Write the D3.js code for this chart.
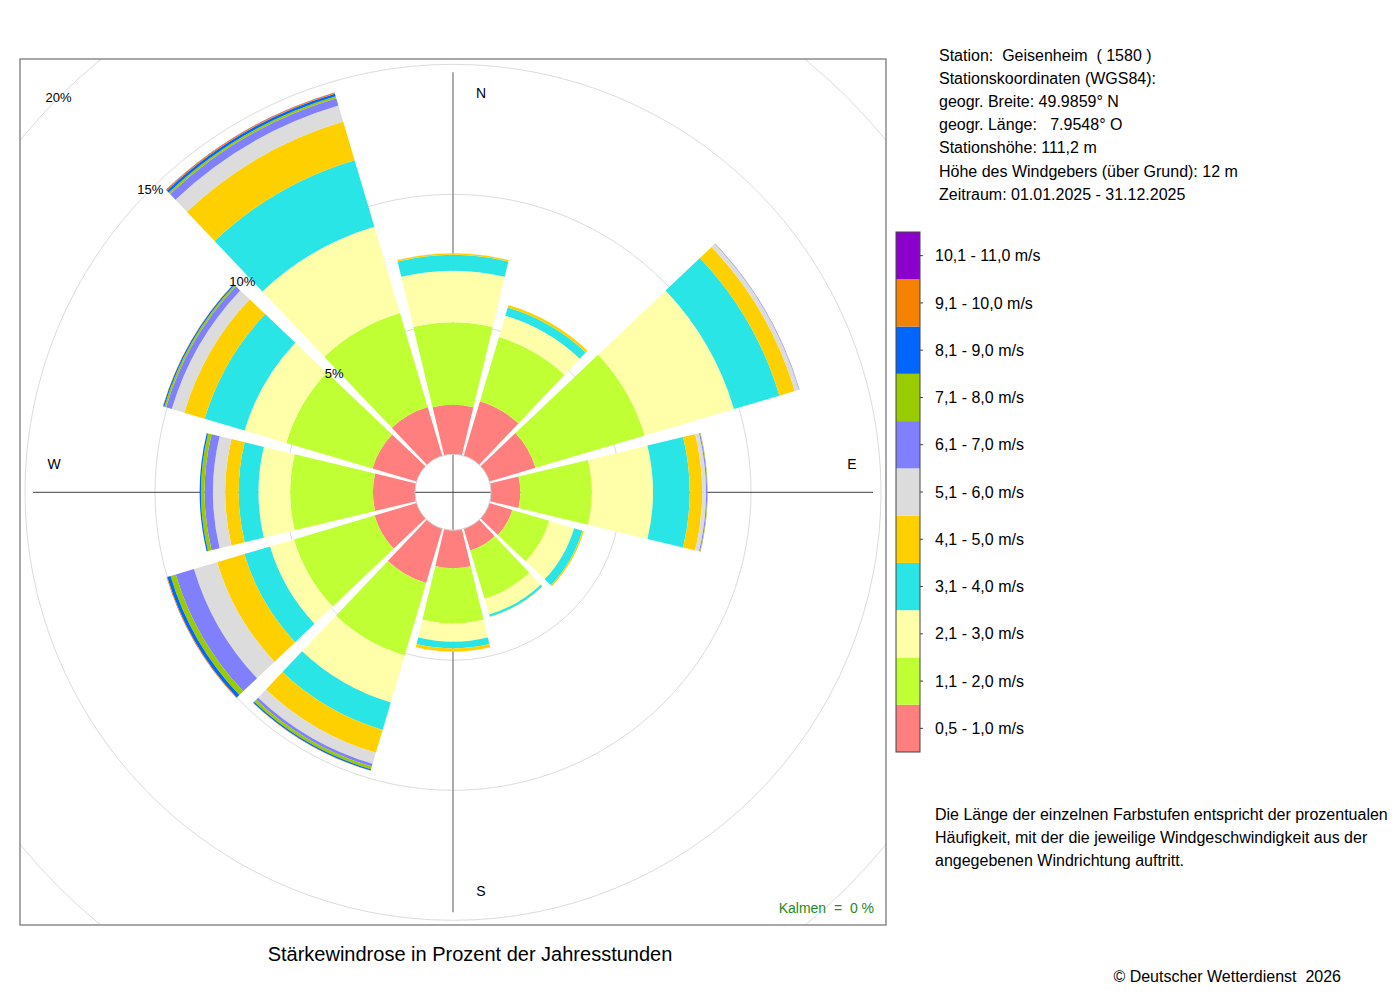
<!DOCTYPE html>
<html>
<head>
<meta charset="utf-8">
<script src="https://d3js.org/d3.v7.min.js"></script>
<style>
  body { margin: 0; background: #fff; }
  svg text { font-family: "Liberation Sans", Arial, Helvetica, sans-serif; fill: #000; white-space: pre; }
</style>
</head>
<body>
<svg id="chart" width="1400" height="1000"></svg>
<script>
  // wind directions (compass degrees, sector centres)
  var directions = [0, 30, 60, 90, 120, 150, 180, 210, 240, 270, 300, 330];

  // speed classes, bottom to top of the stack
  var speedClasses = ['0,5 - 1,0 m/s', '1,1 - 2,0 m/s', '2,1 - 3,0 m/s', '3,1 - 4,0 m/s',
    '4,1 - 5,0 m/s', '5,1 - 6,0 m/s', '6,1 - 7,0 m/s', '7,1 - 8,0 m/s',
    '8,1 - 9,0 m/s', '9,1 - 10,0 m/s', '10,1 - 11,0 m/s'];
  var speedColors = ['#ff7f7f', '#bfff33', '#ffffaa', '#29e5e5', '#ffd000', '#dcdcdc',
    '#8080ff', '#99cc00', '#0066ff', '#f58200', '#8c00cc'];

  // percent of year hours per speed class, one array per direction
  var freq000 = [1.90, 3.18, 1.98, 0.61, 0.06, 0.01, 0, 0, 0, 0, 0];
  var freq030 = [2.19, 2.58, 0.85, 0.33, 0.10, 0.00, 0, 0, 0, 0, 0];
  var freq060 = [1.85, 4.38, 3.58, 1.82, 0.62, 0.17, 0.02, 0, 0, 0, 0];
  var freq090 = [1.13, 2.75, 2.35, 1.41, 0.48, 0.15, 0.04, 0.02, 0, 0, 0];
  var freq120 = [0.92, 1.48, 1.00, 0.33, 0.06, 0, 0, 0, 0, 0, 0];
  var freq150 = [0.87, 1.94, 0.63, 0.09, 0.01, 0, 0, 0, 0, 0, 0];
  var freq180 = [1.46, 2.12, 0.70, 0.26, 0.13, 0.01, 0, 0, 0, 0, 0];
  var freq210 = [2.18, 2.90, 1.89, 1.10, 0.92, 0.44, 0.11, 0.11, 0.05, 0.01, 0];
  var freq240 = [1.69, 3.23, 0.96, 1.03, 1.09, 0.93, 0.73, 0.21, 0.13, 0.03, 0];
  var freq270 = [1.62, 3.18, 1.22, 0.76, 0.52, 0.47, 0.32, 0.14, 0.05, 0, 0];
  var freq300 = [1.77, 3.46, 1.67, 1.60, 0.82, 0.50, 0.23, 0.07, 0.05, 0.01, 0];
  var freq330 = [1.96, 3.77, 3.46, 2.67, 1.55, 0.64, 0.30, 0.08, 0.10, 0.04, 0.01];
  var freqByDir = [freq000, freq030, freq060, freq090, freq120, freq150,
    freq180, freq210, freq240, freq270, freq300, freq330];

  var ringTicks = [5, 10, 15, 20];
  var compassLabels = ['N', 'E', 'S', 'W'];

  var infoLines = ['Station:  Geisenheim  ( 1580 )', 'Stationskoordinaten (WGS84):',
    'geogr. Breite: 49.9859\u00b0 N', 'geogr. L\u00e4nge:   7.9548\u00b0 O',
    'Stationsh\u00f6he: 111,2 m', 'H\u00f6he des Windgebers (\u00fcber Grund): 12 m',
    'Zeitraum: 01.01.2025 - 31.12.2025'];
  var noteLines = ['Die L\u00e4nge der einzelnen Farbstufen entspricht der prozentualen',
    'H\u00e4ufigkeit, mit der die jeweilige Windgeschwindigkeit aus der',
    'angegebenen Windrichtung auftritt.'];
  var calmText = 'Kalmen  =  0 %';

  var svg = d3.select('#chart');
  var frame = { x: 20, y: 59, w: 866, h: 866 };
  var cx = frame.x + frame.w / 2;
  var cy = 492.3;
  var halfWidth = 13.5; // degrees each side of sector centre

  var r = d3.scaleLinear().domain([0, 20]).range([38, 558]);
  var rad = function (deg) { return deg * Math.PI / 180; };

  svg.append('clipPath').attr('id', 'frameClip')
    .append('rect').attr('x', frame.x).attr('y', frame.y)
    .attr('width', frame.w).attr('height', frame.h);

  var plot = svg.append('g').attr('clip-path', 'url(#frameClip)');
  var g = plot.append('g').attr('transform', 'translate(' + cx + ',' + cy + ')');

  // grid rings
  g.selectAll('circle.ring')
    .data(ringTicks)
    .enter()
    .append('circle')
    .attr('class', 'ring')
    .attr('r', function (d) { return r(d); })
    .attr('fill', 'none')
    .attr('stroke', '#dcdcdc')
    .attr('stroke-width', 1);

  // cross axes
  var axisLen = 420;
  g.append('line').attr('x1', 0).attr('x2', 0).attr('y1', -axisLen).attr('y2', axisLen)
    .attr('stroke', '#8a8a8a').attr('stroke-width', 1.4);
  g.append('line').attr('x1', -axisLen).attr('x2', axisLen).attr('y1', 0).attr('y2', 0)
    .attr('stroke', '#404040').attr('stroke-width', 1);

  // stacked sectors
  var arc = d3.arc();
  var segments = [];
  directions.forEach(function (dir, i) {
    var cum = 0;
    freqByDir[i].forEach(function (v, k) {
      if (v > 0) {
        segments.push({ dir: dir, k: k, start: cum, end: cum + v });
      }
      cum += v;
    });
  });

  g.selectAll('path.seg')
    .data(segments)
    .enter()
    .append('path')
    .attr('class', 'seg')
    .attr('d', function (d) {
      return arc({
        innerRadius: r(d.start),
        outerRadius: r(d.end),
        startAngle: rad(d.dir - halfWidth),
        endAngle: rad(d.dir + halfWidth)
      });
    })
    .attr('fill', function (d) { return speedColors[d.k]; });

  // centre hole outline
  g.append('circle').attr('r', r(0)).attr('fill', 'none')
    .attr('stroke', '#d0d0d0').attr('stroke-width', 1);

  // ring labels on the NW diagonal
  g.selectAll('text.ringlab')
    .data(ringTicks)
    .enter()
    .append('text')
    .attr('class', 'ringlab')
    .attr('x', function (d) { return -r(d) * Math.SQRT1_2; })
    .attr('y', function (d) { return -r(d) * Math.SQRT1_2; })
    .attr('dy', '0.35em')
    .attr('text-anchor', 'middle')
    .style('font-size', '13px')
    .text(function (d) { return d + '%'; });

  // compass letters: near the axis ends, shifted right (N, S) or up (E, W)
  var labelR = 399, labelShift = 28;
  g.selectAll('text.compass')
    .data(compassLabels)
    .enter()
    .append('text')
    .attr('class', 'compass')
    .attr('x', function (d, i) {
      return i % 2 === 0 ? labelShift : (i === 1 ? labelR : -labelR);
    })
    .attr('y', function (d, i) {
      return i % 2 === 1 ? -labelShift : (i === 0 ? -labelR : labelR);
    })
    .attr('dy', '0.35em')
    .attr('text-anchor', 'middle')
    .style('font-size', '14px')
    .text(function (d) { return d; });

  // frame
  svg.append('rect').attr('x', frame.x).attr('y', frame.y)
    .attr('width', frame.w).attr('height', frame.h)
    .attr('fill', 'none').attr('stroke', '#6e6e6e').attr('stroke-width', 1.2);

  svg.append('text')
    .attr('x', frame.x + frame.w - 12).attr('y', frame.y + frame.h - 12)
    .attr('text-anchor', 'end')
    .style('font-size', '14px').style('fill', '#228b22')
    .text(calmText);

  svg.append('text')
    .attr('x', 470).attr('y', 961)
    .attr('text-anchor', 'middle')
    .style('font-size', '20px')
    .text('St\u00e4rkewindrose in Prozent der Jahresstunden');

  svg.append('text')
    .attr('x', 1341).attr('y', 982)
    .attr('text-anchor', 'end')
    .style('font-size', '16px')
    .text('\u00a9 Deutscher Wetterdienst  2026');

  // station info
  svg.selectAll('text.info')
    .data(infoLines)
    .enter()
    .append('text')
    .attr('class', 'info')
    .attr('x', 939)
    .attr('y', function (d, i) { return 60.5 + i * 23.2; })
    .style('font-size', '16px')
    .text(function (d) { return d; });

  // legend colour bar
  var legTop = 232, legBottom = 752, legX = 896, legW = 24;
  var legY = d3.scaleBand()
    .domain(d3.range(speedClasses.length).reverse())
    .range([legTop, legBottom]);

  var leg = svg.append('g');
  leg.selectAll('rect')
    .data(d3.range(speedClasses.length))
    .enter()
    .append('rect')
    .attr('x', legX)
    .attr('y', function (d) { return legY(d); })
    .attr('width', legW)
    .attr('height', legY.bandwidth())
    .attr('fill', function (d) { return speedColors[d]; });
  leg.append('rect').attr('x', legX).attr('y', legTop)
    .attr('width', legW).attr('height', legBottom - legTop)
    .attr('fill', 'none').attr('stroke', '#444').attr('stroke-width', 1);
  leg.selectAll('line.tick')
    .data(d3.range(speedClasses.length))
    .enter()
    .append('line')
    .attr('x1', legX + legW).attr('x2', legX + legW + 3)
    .attr('y1', function (d) { return legY(d) + legY.bandwidth() / 2; })
    .attr('y2', function (d) { return legY(d) + legY.bandwidth() / 2; })
    .attr('stroke', '#444');
  leg.selectAll('text')
    .data(d3.range(speedClasses.length))
    .enter()
    .append('text')
    .attr('x', 935)
    .attr('y', function (d) { return legY(d) + legY.bandwidth() / 2; })
    .attr('dy', '0.35em')
    .style('font-size', '16px')
    .text(function (d) { return speedClasses[d]; });

  // explanation
  svg.selectAll('text.note')
    .data(noteLines)
    .enter()
    .append('text')
    .attr('class', 'note')
    .attr('x', 935)
    .attr('y', function (d, i) { return 819.5 + i * 23.2; })
    .style('font-size', '16px')
    .text(function (d) { return d; });
</script>
</body>
</html>
